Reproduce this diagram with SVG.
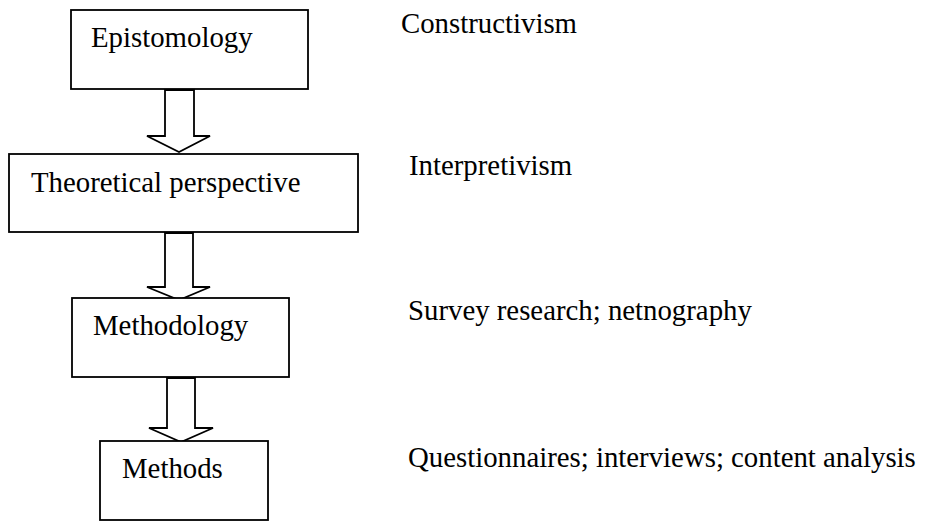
<svg xmlns="http://www.w3.org/2000/svg" width="927" height="521" viewBox="0 0 927 521">
  <style>
    .box { fill: #ffffff; stroke: #000000; stroke-width: 1.8; }
    .arrow { fill: #ffffff; stroke: #000000; stroke-width: 1.8; stroke-linejoin: miter; }
    .label { font-family: "Liberation Serif", "Times New Roman", serif; font-size: 28.8px; fill: #000000; }
  </style>
  <rect width="927" height="521" fill="#ffffff"/>

  <!-- block arrows between the levels -->
  <g id="connectors">
    <path class="arrow" d="M165,90 L194,90 L194,136 L210,136 L179,152 L147,136 L165,136 Z"/>
    <path class="arrow" d="M165,233 L193,233 L193,287 L210,287 L179,300 L147,287 L165,287 Z"/>
    <path class="arrow" d="M167,378 L195,378 L195,428 L213,428 L181,442 L149,428 L167,428 Z"/>
  </g>

  <g id="epistemology">
    <rect class="box" x="71" y="10" width="237" height="79"/>
    <text class="label" x="91" y="47">Epistomology</text>
  </g>
  <g id="theoretical-perspective">
    <rect class="box" x="9" y="154" width="349" height="78"/>
    <text class="label" x="31" y="192">Theoretical perspective</text>
  </g>
  <g id="methodology">
    <rect class="box" x="72" y="298" width="217" height="79"/>
    <text class="label" x="93" y="335">Methodology</text>
  </g>
  <g id="methods">
    <rect class="box" x="100" y="441" width="168" height="79"/>
    <text class="label" x="122" y="478">Methods</text>
  </g>

  <!-- examples for each level -->
  <g id="examples">
    <text class="label" x="401" y="33">Constructivism</text>
    <text class="label" x="409" y="175">Interpretivism</text>
    <text class="label" x="408" y="320">Survey research; netnography</text>
    <text class="label" x="408" y="467">Questionnaires; interviews; content analysis</text>
  </g>
</svg>
